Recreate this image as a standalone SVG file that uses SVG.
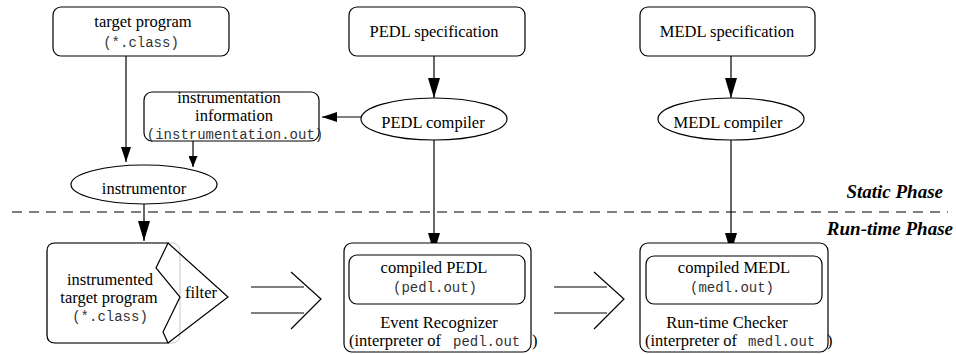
<svg xmlns="http://www.w3.org/2000/svg" width="956" height="354" viewBox="0 0 956 354">
<style>
.box{fill:#fff;stroke:#000;stroke-width:1.2}
.t{font-family:"Liberation Serif","Times New Roman",serif;font-size:16.5px;fill:#000}
.m{font-family:"Liberation Mono","Courier New",monospace;font-size:14px;fill:#333}
.ph{font-family:"Liberation Serif","Times New Roman",serif;font-size:19px;font-weight:bold;font-style:italic;fill:#000;text-anchor:end}
.c{text-anchor:middle}
.ln{fill:none;stroke:#000;stroke-width:1.2}
</style>
<defs>
<marker id="big" markerUnits="userSpaceOnUse" markerWidth="20" markerHeight="12" refX="20" refY="6" orient="auto"><path d="M0,0 L20,6 L0,12 z" fill="#000"/></marker>
<marker id="mid" markerUnits="userSpaceOnUse" markerWidth="15" markerHeight="10" refX="15" refY="5" orient="auto"><path d="M0,0 L15,5 L0,10 z" fill="#000"/></marker>
<marker id="small" markerUnits="userSpaceOnUse" markerWidth="11" markerHeight="9" refX="11" refY="4.5" orient="auto"><path d="M0,0 L11,4.5 L0,9 z" fill="#000"/></marker>
</defs>
<rect width="956" height="354" fill="#fff"/>

<g id="phases">
<line x1="12" y1="212" x2="948" y2="212" stroke="#000" stroke-width="1.2" stroke-dasharray="10,7"/>
<text class="ph" x="943" y="198">Static Phase</text>
<text class="ph" x="953" y="235">Run-time Phase</text>
</g>

<g id="connectors">
<line class="ln" x1="126" y1="56" x2="126" y2="162" marker-end="url(#mid)"/>
<line class="ln" x1="193" y1="141" x2="193" y2="167" marker-end="url(#small)"/>
<line class="ln" x1="434" y1="56" x2="434" y2="98" marker-end="url(#big)"/>
<line class="ln" x1="362" y1="117" x2="322" y2="117" marker-end="url(#mid)"/>
<line class="ln" x1="731" y1="56" x2="731" y2="98" marker-end="url(#big)"/>
<line class="ln" x1="144" y1="204" x2="144" y2="241" marker-end="url(#big)"/>
<line class="ln" x1="434" y1="140" x2="434" y2="253" marker-end="url(#big)"/>
<line class="ln" x1="731" y1="140" x2="731" y2="253" marker-end="url(#big)"/>
<g id="flow1">
<line class="ln" x1="251" y1="287" x2="304" y2="287"/>
<line class="ln" x1="251" y1="313" x2="304" y2="313"/>
<polyline class="ln" points="291,272 321,299 291,329"/>
</g>
<g id="flow2">
<line class="ln" x1="554" y1="287" x2="607" y2="287"/>
<line class="ln" x1="554" y1="313" x2="607" y2="313"/>
<polyline class="ln" points="594,272 624,299 594,329"/>
</g>
</g>

<g id="target-program">
<rect class="box" x="53" y="7" width="176" height="49" rx="8"/>
<text class="t c" x="143" y="27">target program</text>
<text class="m c" x="141" y="47">(*.class)</text>
</g>

<g id="pedl-spec">
<rect class="box" x="349" y="7" width="176" height="49" rx="8"/>
<text class="t c" x="434" y="37">PEDL specification</text>
</g>

<g id="medl-spec">
<rect class="box" x="640" y="7" width="175" height="49" rx="8"/>
<text class="t c" x="727" y="37">MEDL specification</text>
</g>

<g id="instr-info">
<rect class="box" x="144" y="92" width="175" height="49" rx="8"/>
<text class="t c" x="229" y="103">instrumentation</text>
<text class="t c" x="234" y="121">information</text>
<text class="m c" x="235" y="139">(instrumentation.out)</text>
</g>

<g id="pedl-compiler">
<ellipse class="box" cx="434" cy="119" rx="73" ry="21"/>
<text class="t c" x="433" y="128">PEDL compiler</text>
</g>

<g id="medl-compiler">
<ellipse class="box" cx="731" cy="119" rx="73" ry="21"/>
<text class="t c" x="728" y="128">MEDL compiler</text>
</g>

<g id="instrumentor">
<ellipse class="box" cx="144" cy="184.5" rx="73" ry="19.5"/>
<text class="t c" x="144" y="194">instrumentor</text>
</g>

<g id="instrumented">
<rect x="47" y="243" width="133" height="100" rx="8" fill="#fff" stroke="#c8c8c8" stroke-width="1"/>
<path class="ln" d="M168,243 L55,243 Q47,243 47,251 L47,335 Q47,343 55,343 L168,343 L163,332 L180,297 L156,268 Z"/>
<path class="ln" d="M168,243 L228,297 L168,343"/>
<text class="t c" x="110" y="285">instrumented</text>
<text class="t c" x="109" y="303">target program</text>
<text class="m c" x="110" y="321">(*.class)</text>
<text class="t c" x="201" y="298">filter</text>
</g>

<g id="event-recognizer">
<rect class="box" x="344" y="243" width="187" height="109" rx="8"/>
<rect class="box" x="349" y="255" width="176" height="49" rx="8"/>
<text class="t c" x="434" y="273">compiled PEDL</text>
<text class="m c" x="435" y="292">(pedl.out)</text>
<text class="t c" x="439" y="328">Event Recognizer</text>
<text class="t" x="349" y="346">(interpreter of</text>
<text class="m" x="453" y="346">pedl.out</text>
<text class="t" x="532" y="346">)</text>
</g>

<g id="runtime-checker">
<rect class="box" x="640" y="243" width="188" height="109" rx="8"/>
<rect class="box" x="646" y="256" width="176" height="48" rx="8"/>
<text class="t c" x="734" y="273">compiled MEDL</text>
<text class="m c" x="732" y="292">(medl.out)</text>
<text class="t c" x="727" y="328">Run-time Checker</text>
<text class="t" x="645" y="346">(interpreter of</text>
<text class="m" x="748" y="346">medl.out</text>
<text class="t" x="827" y="346">)</text>
</g>
</svg>
